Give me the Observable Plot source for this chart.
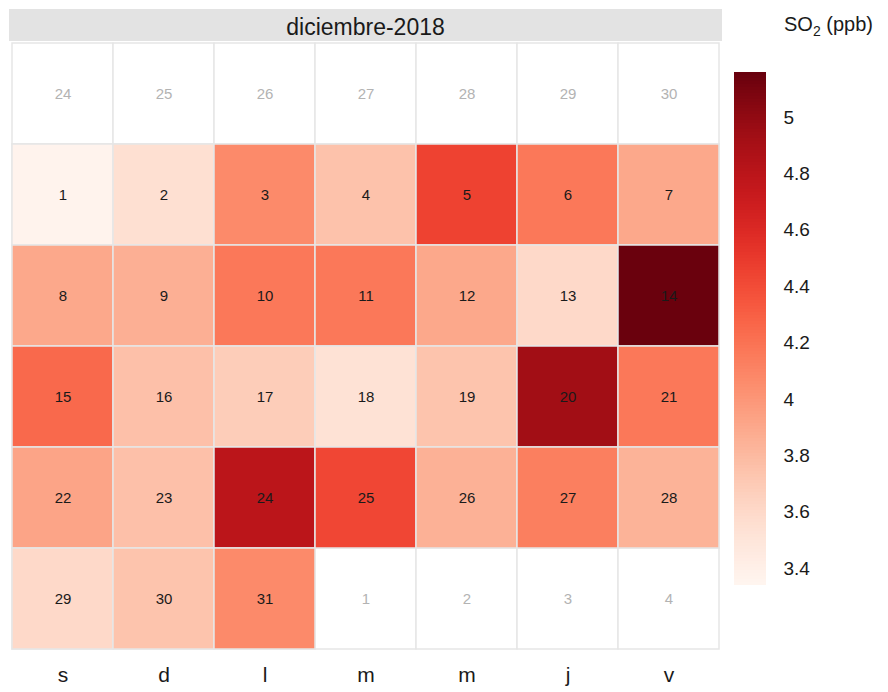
<!DOCTYPE html>
<html>
<head>
<meta charset="utf-8">
<script src="https://cdn.jsdelivr.net/npm/d3@7"></script>
<script src="https://cdn.jsdelivr.net/npm/@observablehq/plot@0.6"></script>
<style>
  body { margin: 0; background: #fff; font-family: "Liberation Sans", Arial, sans-serif; }
  #wrap { position: relative; width: 888px; height: 692px; }
  #strip { position: absolute; left: 9px; top: 9px; width: 713px; height: 32px; background: #e3e3e3;
           font-size: 23px; color: #1a1a1a; text-align: center; line-height: 36px; }
  #legtitle { position: absolute; left: 784px; top: 13px; font-size: 20px; color: #1a1a1a; white-space: nowrap; }
  #legtitle sub { font-size: 14px; }
  #legend { position: absolute; left: 734px; top: 72px; }
  #main { position: absolute; left: 0; top: 0; }
</style>
</head>
<body>
<div id="wrap">
  <div id="main"></div>
  <div id="strip">diciembre-2018</div>
  <div id="legtitle">SO<sub>2</sub> (ppb)</div>
  <div id="legend"></div>
</div>
<script>
// Data
const monthTitle = "diciembre-2018";
const weekdayLabels = ["s", "d", "l", "m", "m", "j", "v"];
const decDays = d3.range(1, 32);
const so2 = [3.36, 3.55, 4.07, 3.75, 4.45, 4.17, 3.90,
             3.90, 3.86, 4.17, 4.17, 3.90, 3.60, 5.15,
             4.25, 3.76, 3.68, 3.53, 3.74, 4.93, 4.17,
             3.92, 3.76, 4.80, 4.43, 3.85, 4.13, 3.84,
             3.60, 3.74, 4.07];
const legendTicks = [3.4, 3.6, 3.8, 4, 4.2, 4.4, 4.6, 4.8, 5];
const colorDomain = [3.34, 5.16];

const start = new Date(Date.UTC(2018, 10, 24));
const end = new Date(Date.UTC(2019, 0, 5));
const dates = d3.utcDay.range(start, end);
const cells = dates.map((d, i) => {
  const inDec = d.getUTCMonth() === 11;
  return {
    col: (d.getUTCDay() + 1) % 7,
    row: Math.floor(i / 7),
    day: d.getUTCDate(),
    inDec,
    value: inDec ? so2[d.getUTCDate() - 1] : null
  };
});
const decCells = cells.filter(d => d.inDec);

const colorOpts = { type: "linear", scheme: "reds", domain: colorDomain, clamp: true };

const main = Plot.plot({
  width: 888,
  height: 692,
  marginLeft: 9,
  marginRight: 167,
  marginTop: 41,
  marginBottom: 42,
  style: { fontFamily: "Liberation Sans, Arial, sans-serif", background: "transparent" },
  x: { type: "band", domain: d3.range(7), padding: 0, axis: null },
  y: { type: "band", domain: d3.range(6), padding: 0, axis: null },
  color: colorOpts,
  marks: [
    Plot.cell(cells, { x: "col", y: "row", fill: "#ffffff", stroke: "#e6e6e6", strokeWidth: 1.5 }),
    Plot.cell(decCells, { x: "col", y: "row", fill: "value", stroke: "#e6e6e6", strokeWidth: 1.5 }),
    Plot.text(cells, { x: "col", y: "row", text: "day", fill: d => d.inDec ? "#1a1a1a" : "#b3b3b3", fontSize: 15 }),
    Plot.axisX({ anchor: "bottom", tickSize: 0, tickPadding: 17, fontSize: 21, fill: "#1a1a1a", tickFormat: i => weekdayLabels[i], label: null })
  ]
});
document.getElementById("main").append(main);

// Vertical colour bar
const steps = 171;
const strips = d3.range(steps).map(i => ({
  y1: colorDomain[0] + (colorDomain[1] - colorDomain[0]) * i / steps,
  y2: colorDomain[0] + (colorDomain[1] - colorDomain[0]) * (i + 1.6) / steps
}));
const legend = Plot.plot({
  width: 140,
  height: 513,
  marginLeft: 0,
  marginRight: 108,
  marginTop: 0,
  marginBottom: 0,
  style: { fontFamily: "Liberation Sans, Arial, sans-serif", background: "transparent" },
  x: { domain: [0, 1], axis: null },
  y: { domain: colorDomain, axis: null },
  color: colorOpts,
  marks: [
    Plot.rect(strips, { x1: 0, x2: 1, y1: "y1", y2: "y2", fill: d => d.y1 + (colorDomain[1] - colorDomain[0]) * 0.5 / steps, shapeRendering: "crispEdges" }),
    Plot.axisY({ anchor: "right", ticks: legendTicks, tickFormat: d => String(d), tickSize: 0, tickPadding: 17, fontSize: 19, fill: "#1a1a1a", label: null })
  ]
});
document.getElementById("legend").append(legend);
</script>
</body>
</html>
